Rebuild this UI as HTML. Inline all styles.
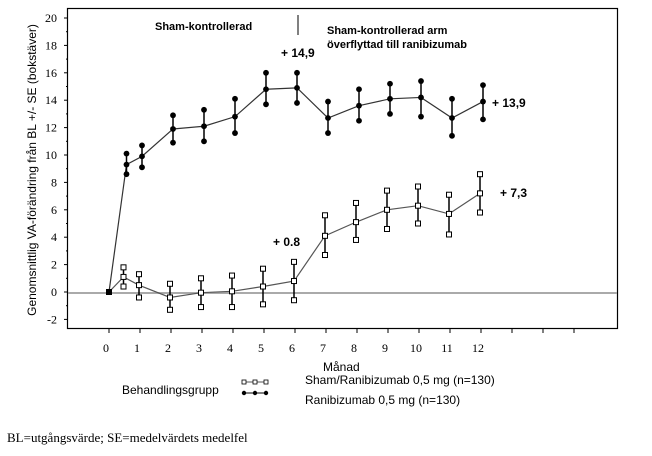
<!DOCTYPE html>
<html><head><meta charset="utf-8"><style>
body{margin:0;background:#fff;width:652px;height:451px;overflow:hidden}
</style></head><body>
<svg width="652" height="451" xmlns="http://www.w3.org/2000/svg">
<rect x="67.5" y="8.5" width="550" height="320" fill="none" stroke="#000" stroke-width="1.2"/>
<line x1="68" y1="293" x2="617" y2="293" stroke="#aaa" stroke-width="2"/>
<g font-family="Liberation Serif, serif" font-size="12" text-anchor="end" fill="#000" id="yl"></g>
<g font-family="Liberation Serif, serif" font-size="12" text-anchor="middle" fill="#000" id="xl"></g>
<g id="ticks" stroke="#000" stroke-width="1"></g>
<text transform="translate(36,170) rotate(-90)" font-family="Liberation Sans, sans-serif" font-size="12" text-anchor="middle">Genomsnittlig VA-förändring från BL +/- SE (bokstäver)</text>
<g font-family="Liberation Sans, sans-serif" font-size="11" font-weight="bold">
<text x="155" y="30">Sham-kontrollerad</text>
<text x="327" y="34">Sham-kontrollerad arm</text>
<text x="327" y="48">överflyttad till ranibizumab</text>
<text x="281" y="57" font-size="12">+ 14,9</text>
<text x="492" y="107" font-size="12">+ 13,9</text>
<text x="500" y="197" font-size="12">+ 7,3</text>
<text x="273" y="246" font-size="12">+ 0.8</text>
</g>
<line x1="298" y1="15" x2="298" y2="35" stroke="#000"/>
<g id="series"></g>
<g font-family="Liberation Sans, sans-serif" font-size="12">
<text x="323" y="371">Månad</text>
<text x="122" y="394">Behandlingsgrupp</text>
<text x="305" y="384">Sham/Ranibizumab 0,5 mg (n=130)</text>
<text x="305" y="404">Ranibizumab 0,5 mg (n=130)</text>
</g>
<line x1="244" y1="382" x2="266" y2="382" stroke="#555"/>
<rect x="242" y="380" width="4" height="4" fill="#fff" stroke="#000" stroke-width="0.8"/>
<rect x="253" y="380" width="4" height="4" fill="#fff" stroke="#000" stroke-width="0.8"/>
<rect x="264" y="380" width="4" height="4" fill="#fff" stroke="#000" stroke-width="0.8"/>
<line x1="244" y1="393" x2="266" y2="393" stroke="#000"/>
<circle cx="244" cy="393" r="2.2"/><circle cx="255" cy="393" r="2.2"/><circle cx="266" cy="393" r="2.2"/>
<text x="7" y="442" font-family="Liberation Serif, serif" font-size="13">BL=utgångsvärde; SE=medelvärdets medelfel</text>
</svg>
<script>
var NS="http://www.w3.org/2000/svg";
function el(p,t,a,txt){var e=document.createElementNS(NS,t);for(var k in a)e.setAttribute(k,a[k]);if(txt!=null)e.textContent=txt;document.getElementById(p).appendChild(e);return e;}
function Y(v){return 292-v*13.7;}
function X(m){return 109+m*31;}
for(var v=-2;v<=20;v+=2){el("yl","text",{x:57,y:Y(v)+4},v);el("ticks","line",{x1:64,x2:68,y1:Y(v),y2:Y(v)});}
for(var v=-1;v<=19;v+=2){el("ticks","line",{x1:66,x2:68,y1:Y(v),y2:Y(v)});}
for(var m=0;m<=15;m++){el("ticks","line",{x1:X(m),x2:X(m),y1:328,y2:333});if(m<=12)el("xl","text",{x:X(m)-3,y:352},m);}
var R=[[0,0,0,0],[0.5,9.3,10.1,8.6],[1,9.9,10.7,9.1],[2,11.9,12.9,10.9],[3,12.1,13.3,11.0],[4,12.8,14.1,11.6],[5,14.8,16.0,13.7],[6,14.9,16.0,13.8],[7,12.7,13.9,11.6],[8,13.6,14.8,12.5],[9,14.1,15.2,13.0],[10,14.2,15.4,12.8],[11,12.7,14.1,11.4],[12,13.9,15.1,12.6]];
var S=[[0,0,0,0],[0.5,1.1,1.8,0.4],[1,0.5,1.3,-0.4],[2,-0.4,0.6,-1.3],[3,-0.05,1.0,-1.1],[4,0.05,1.2,-1.1],[5,0.4,1.7,-0.9],[6,0.8,2.2,-0.6],[7,4.1,5.6,2.7],[8,5.1,6.5,3.8],[9,6.0,7.4,4.6],[10,6.3,7.7,5.0],[11,5.7,7.1,4.2],[12,7.2,8.6,5.8]];
function draw(d,off,sq,col){
 var pts=d.map(function(r){return (X(r[0])+(r[0]?off:0))+","+Y(r[1]);}).join(" ");
 el("series","polyline",{points:pts,fill:"none",stroke:col,"stroke-width":1.2});
 d.forEach(function(r){var x=X(r[0])+(r[0]?off:0);if(!r[0])return;
  el("series","line",{x1:x,x2:x,y1:Y(r[2]),y2:Y(r[3]),stroke:"#000","stroke-width":1.5});
  [r[1],r[2],r[3]].forEach(function(v){
   if(sq)el("series","rect",{x:x-2.5,y:Y(v)-2.5,width:5,height:5,fill:"#fff",stroke:"#000"});
   else el("series","circle",{cx:x,cy:Y(v),r:2.9,fill:"#000"});});});
}
draw(S,-1,true,"#555");draw(R,2,false,"#333");
el("series","rect",{x:X(0)-3,y:Y(0)-3,width:6,height:6,fill:"#000"});
</script>
</body></html>
